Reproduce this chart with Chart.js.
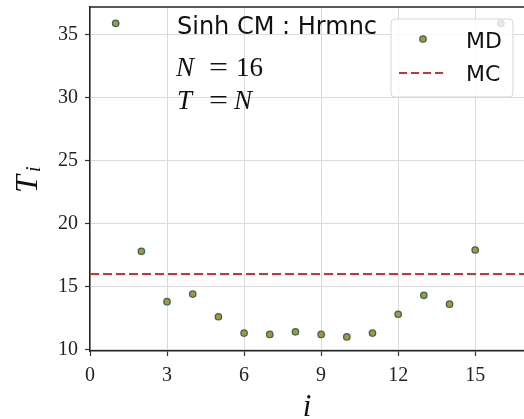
<!DOCTYPE html>
<html>
<head>
<meta charset="utf-8">
<script src="https://cdn.jsdelivr.net/npm/chart.js@4.4.1/dist/chart.umd.min.js"></script>
<style>
  html, body { margin: 0; padding: 0; background: #fff; }
  #wrap { width: 524px; height: 419px; position: relative; }
</style>
</head>
<body>
<div id="wrap"><canvas id="tiChart" width="524" height="419"></canvas></div>
<script>
// site index and measured T_i
const siteIndex = [1, 2, 3, 4, 5, 6, 7, 8, 9, 10, 11, 12, 13, 14, 15, 16];
const mdValues = [35.9, 17.8, 13.8, 14.4, 12.6, 11.3, 11.2, 11.4, 11.2, 11.0, 11.3, 12.8, 14.3, 13.6, 17.9, 35.9];
// constant MC level
const mcValue = 16.0;
const mcSpan = [0, 16.9];
const xTicks = [0, 3, 6, 9, 12, 15];
const yTicks = [10, 15, 20, 25, 30, 35];

const serif = '"Liberation Serif", "DejaVu Serif", serif';
const sans = '"DejaVu Sans", "Open Sans", sans-serif';

const mdPoints = siteIndex.map((x, k) => ({ x: x, y: mdValues[k] }));
const mcPoints = mcSpan.map(x => ({ x: x, y: mcValue }));

const markerFill = '#b68f3c';
const markerEdge = '#2f6c56';
const mcColor = '#cc3333';

// text inside the axes, legend box, outer labels and top spine
const overlay = {
    id: 'overlay',
    afterDraw(chart) {
        const c = chart.ctx;
        const a = chart.chartArea;
        c.save();

        // top spine
        c.strokeStyle = '#222';
        c.lineWidth = 1.5;
        c.beginPath();
        c.moveTo(a.left, a.top);
        c.lineTo(a.right, a.top);
        c.stroke();

        c.fillStyle = '#111';
        c.textBaseline = 'alphabetic';
        c.textAlign = 'left';
        c.font = '24px ' + sans;
        c.fillText('Sinh CM : Hrmnc', 177, 34);

        c.font = 'italic 27px ' + serif;
        c.fillText('N', 176, 76);
        c.fillText('T', 177, 109);
        c.fillText('N', 234, 109);
        c.font = '27px ' + serif;
        c.save();
        c.scale(1.25, 1);
        c.fillText('=', 209 / 1.25, 76);
        c.fillText('=', 209 / 1.25, 109);
        c.restore();
        c.fillText('16', 236, 76);

        // legend
        const lx = 391, ly = 19, lw = 122, lh = 78, r = 4;
        c.beginPath();
        c.roundRect(lx, ly, lw, lh, r);
        c.fillStyle = 'rgba(255,255,255,0.8)';
        c.fill();
        c.strokeStyle = 'rgba(210,210,210,0.9)';
        c.lineWidth = 1;
        c.stroke();

        c.beginPath();
        c.arc(423, 39, 3.2, 0, Math.PI * 2);
        c.fillStyle = markerFill;
        c.fill();
        c.strokeStyle = markerEdge;
        c.lineWidth = 1.3;
        c.stroke();

        c.beginPath();
        c.setLineDash([8, 4]);
        c.strokeStyle = mcColor;
        c.lineWidth = 2;
        c.moveTo(399, 73);
        c.lineTo(447, 73);
        c.stroke();
        c.setLineDash([]);

        c.fillStyle = '#111';
        c.font = '22px ' + sans;
        c.fillText('MD', 466, 48);
        c.fillText('MC', 466, 81);

        // axis labels
        c.textAlign = 'center';
        c.font = 'italic 31px ' + serif;
        c.fillText('i', (a.left + a.right) / 2, 416);

        c.translate(37, 179);
        c.rotate(-Math.PI / 2);
        c.textAlign = 'left';
        c.font = 'italic 32px ' + serif;
        c.fillText('T', -14, 0);
        c.font = 'italic 20px ' + serif;
        c.fillText('i', 7, 3);
        c.restore();
    }
};

const ctx = document.getElementById('tiChart').getContext('2d');
const tiChart = new Chart(ctx, {
    type: 'scatter',
    data: {
        datasets: [
            {
                label: 'MD',
                data: mdPoints,
                pointRadius: 3.2,
                pointBorderWidth: 1.3,
                backgroundColor: markerFill,
                borderColor: markerEdge,
                showLine: false,
                order: 1
            },
            {
                label: 'MC',
                data: mcPoints,
                showLine: true,
                pointRadius: 0,
                borderColor: mcColor,
                borderWidth: 2,
                borderDash: [9, 4],
                order: 2
            }
        ]
    },
    options: {
        responsive: false,
        animation: false,
        layout: { autoPadding: false, padding: { top: 7, right: 0, left: 0, bottom: 0 } },
        plugins: {
            legend: { display: false },
            tooltip: { enabled: false }
        },
        scales: {
            x: {
                type: 'linear',
                min: 0,
                max: 16.9,
                afterBuildTicks: s => { s.ticks = xTicks.map(v => ({ value: v })); },
                afterFit: s => { s.height = 68; s.paddingLeft = 0; s.paddingRight = 0; },
                ticks: {
                    font: { family: serif, size: 20 },
                    color: '#222',
                    padding: 8,
                    maxRotation: 0
                },
                grid: {
                    color: '#dadada',
                    lineWidth: 1,
                    tickLength: 5,
                    tickColor: '#333',
                    tickWidth: 1.2
                },
                border: { color: '#222', width: 1.5 }
            },
            y: {
                type: 'linear',
                min: 9.88,
                max: 37.2,
                afterBuildTicks: s => { s.ticks = yTicks.map(v => ({ value: v })); },
                afterFit: s => { s.width = 90; s.paddingTop = 0; s.paddingBottom = 0; },
                ticks: {
                    font: { family: serif, size: 20 },
                    color: '#222',
                    padding: 7
                },
                grid: {
                    color: '#dadada',
                    lineWidth: 1,
                    tickLength: 5,
                    tickColor: '#333',
                    tickWidth: 1.2
                },
                border: { color: '#222', width: 1.5 }
            }
        }
    },
    plugins: [overlay]
});
</script>
</body>
</html>
